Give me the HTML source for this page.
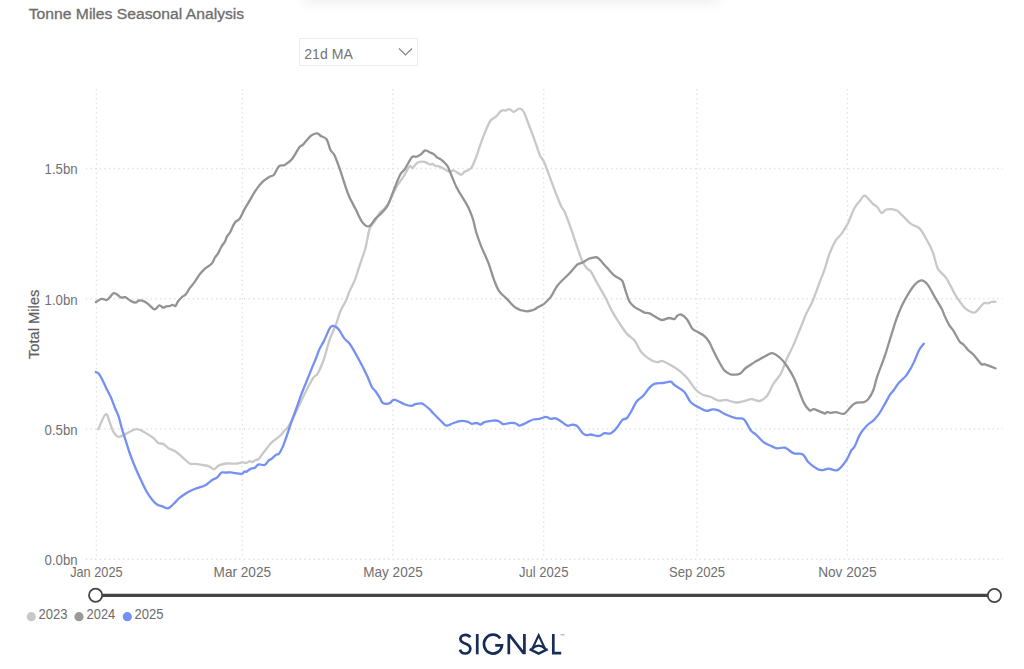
<!DOCTYPE html>
<html><head><meta charset="utf-8">
<style>
html,body{margin:0;padding:0;background:#fff;}
body{width:1024px;height:669px;overflow:hidden;position:relative;font-family:"Liberation Sans",sans-serif;}
.shadow{position:absolute;left:301px;top:-30px;width:420px;height:30px;background:#fff;box-shadow:0 2px 14px rgba(30,30,70,0.085);border-radius:0 0 10px 10px;}
.dd{position:absolute;left:299px;top:38px;width:117px;height:26px;border:1px solid #ebebeb;}
svg{position:absolute;left:0;top:0;}
</style></head><body>
<div class="shadow"></div>
<div class="dd"></div>
<svg width="1024" height="669" viewBox="0 0 1024 669" font-family="Liberation Sans">
<text x="28.7" y="19.2" font-size="15.5" fill="#6d6d6d" stroke="#6d6d6d" stroke-width="0.3" textLength="215.5" lengthAdjust="spacingAndGlyphs">Tonne Miles Seasonal Analysis</text>
<text x="304.3" y="58.7" font-size="15.2" fill="#747474" textLength="48.5" lengthAdjust="spacingAndGlyphs">21d MA</text>
<polyline points="399,48.5 405.5,55 412,48.5" fill="none" stroke="#808080" stroke-width="1.1"/>
<g stroke="#dedede" stroke-width="1.3" stroke-dasharray="1.3 3.35" fill="none">
<line x1="85.8" y1="168.5" x2="1002.5" y2="168.5"/>
<line x1="85.8" y1="298.75" x2="1002.5" y2="298.75"/>
<line x1="85.8" y1="429.0" x2="1002.5" y2="429.0"/>
<line x1="85.8" y1="559.25" x2="1002.5" y2="559.25"/>
<line x1="96.4" y1="89" x2="96.4" y2="558.25"/>
<line x1="242.3" y1="89" x2="242.3" y2="558.25"/>
<line x1="393.0" y1="89" x2="393.0" y2="558.25"/>
<line x1="543.7" y1="89" x2="543.7" y2="558.25"/>
<line x1="697.0" y1="89" x2="697.0" y2="558.25"/>
<line x1="847.4" y1="89" x2="847.4" y2="558.25"/>
</g>
<g font-family="Liberation Sans" font-size="13" fill="#707070">
<text x="77.6" y="174.3" text-anchor="end" font-size="15" textLength="33" lengthAdjust="spacingAndGlyphs">1.5bn</text>
<text x="77.6" y="304.6" text-anchor="end" font-size="15" textLength="33" lengthAdjust="spacingAndGlyphs">1.0bn</text>
<text x="77.6" y="434.8" text-anchor="end" font-size="15" textLength="33" lengthAdjust="spacingAndGlyphs">0.5bn</text>
<text x="77.6" y="565.0" text-anchor="end" font-size="15" textLength="33" lengthAdjust="spacingAndGlyphs">0.0bn</text>
<text x="96.4" y="576.6" text-anchor="middle" font-size="14.2" textLength="52.5" lengthAdjust="spacingAndGlyphs">Jan 2025</text>
<text x="242.3" y="576.6" text-anchor="middle" font-size="14.2" textLength="57.5" lengthAdjust="spacingAndGlyphs">Mar 2025</text>
<text x="393.0" y="576.6" text-anchor="middle" font-size="14.2" textLength="59.5" lengthAdjust="spacingAndGlyphs">May 2025</text>
<text x="543.7" y="576.6" text-anchor="middle" font-size="14.2" textLength="49.5" lengthAdjust="spacingAndGlyphs">Jul 2025</text>
<text x="697.0" y="576.6" text-anchor="middle" font-size="14.2" textLength="56" lengthAdjust="spacingAndGlyphs">Sep 2025</text>
<text x="847.4" y="576.6" text-anchor="middle" font-size="14.2" textLength="58.5" lengthAdjust="spacingAndGlyphs">Nov 2025</text>
</g>
<text transform="translate(39.2,324.3) rotate(-90)" text-anchor="middle" font-family="Liberation Sans" font-size="14.7" fill="#5e5e5e" stroke="#5e5e5e" stroke-width="0.2">Total Miles</text>
<g fill="none" stroke-width="2.3" stroke-linejoin="round" stroke-linecap="round">
<path d="M98.2,429.3 C99.5,426.8 103.7,415.3 105.7,414.3 C107.7,413.3 108.8,420.6 110.1,423.5 C111.4,426.4 112.0,429.5 113.3,431.7 C114.6,433.9 116.1,436.1 117.9,436.7 C119.7,437.2 121.9,435.8 123.9,435.0 C125.9,434.2 127.7,432.7 129.8,431.7 C131.9,430.7 134.4,429.3 136.6,429.2 C138.8,429.1 140.7,430.3 142.7,431.2 C144.7,432.2 146.8,433.7 148.6,434.8 C150.4,435.9 151.9,436.7 153.5,438.1 C155.1,439.5 156.8,442.0 158.4,443.0 C160.0,444.0 161.6,443.1 163.2,443.9 C164.8,444.7 166.0,446.5 168.1,447.9 C170.2,449.2 173.6,450.3 175.9,451.8 C178.2,453.3 179.5,454.7 181.8,456.6 C184.1,458.6 187.3,462.3 189.6,463.5 C191.9,464.7 193.4,463.6 195.5,463.9 C197.6,464.1 200.0,464.6 202.3,465.0 C204.6,465.4 207.2,465.7 209.1,466.4 C211.0,467.1 212.4,469.5 214.0,469.3 C215.6,469.1 216.8,466.4 218.9,465.4 C221.0,464.4 223.6,463.8 226.7,463.5 C229.8,463.2 234.6,463.8 237.2,463.6 C239.8,463.4 240.4,462.5 242.0,462.4 C243.6,462.3 245.4,463.1 246.7,462.9 C248.0,462.7 248.7,461.3 249.7,461.2 C250.7,461.1 251.8,462.2 252.7,462.0 C253.6,461.8 254.1,460.7 255.1,460.2 C256.1,459.7 257.6,459.9 258.7,459.0 C259.8,458.1 260.8,456.1 262.0,454.5 C263.2,452.9 264.2,451.5 265.9,449.5 C267.5,447.5 270.3,444.0 271.9,442.3 C273.5,440.6 274.1,440.4 275.5,439.3 C276.9,438.2 278.8,437.0 280.2,435.7 C281.6,434.4 282.4,433.1 283.8,431.5 C285.2,429.9 286.8,428.9 288.6,426.1 C290.4,423.3 291.8,420.4 294.6,414.8 C297.4,409.2 302.1,398.8 305.2,392.7 C308.3,386.6 310.9,381.4 313.0,378.1 C315.1,374.9 316.1,376.4 317.9,373.2 C319.7,370.0 321.9,364.7 323.9,359.0 C325.9,353.3 327.9,344.6 329.9,338.9 C331.9,333.2 334.1,329.3 335.9,324.7 C337.6,320.1 338.7,315.3 340.4,311.2 C342.1,307.1 344.9,303.1 346.3,300.0 C347.8,296.9 347.7,295.7 349.1,292.3 C350.6,288.9 353.5,283.2 355.0,279.6 C356.5,276.0 356.8,274.2 357.9,270.8 C359.0,267.4 360.5,263.0 361.8,259.1 C363.1,255.2 364.4,252.3 365.7,247.3 C367.0,242.3 368.0,233.6 369.6,229.0 C371.2,224.4 374.0,222.7 375.6,220.0 C377.2,217.3 377.6,215.5 379.5,213.0 C381.4,210.5 384.5,209.4 387.3,205.2 C390.1,201.0 393.3,192.6 396.1,187.7 C398.9,182.8 401.6,179.5 403.9,175.9 C406.2,172.3 408.3,167.5 409.8,166.2 C411.3,164.9 411.4,168.7 412.7,168.1 C413.9,167.5 415.3,163.8 417.3,162.7 C419.3,161.6 422.4,161.5 424.5,161.8 C426.6,162.1 428.6,164.2 429.9,164.5 C431.2,164.8 431.3,163.7 432.2,163.9 C433.1,164.1 433.9,165.2 435.2,165.7 C436.5,166.2 438.4,166.3 440.0,166.9 C441.6,167.5 443.2,168.5 444.8,169.3 C446.4,170.1 448.1,171.5 449.6,171.7 C451.1,171.9 451.9,170.0 453.8,170.5 C455.7,171.0 459.2,174.5 461.0,174.7 C462.8,174.9 462.8,172.8 464.5,171.7 C466.2,170.6 469.1,170.6 471.1,168.1 C473.1,165.6 474.9,160.2 476.3,156.7 C477.7,153.2 478.2,150.8 479.4,147.3 C480.6,143.8 482.1,139.6 483.6,135.8 C485.1,132.1 487.1,127.4 488.3,124.8 C489.5,122.2 489.6,121.5 490.9,120.1 C492.2,118.7 494.5,117.9 496.1,116.4 C497.8,114.9 499.6,112.2 500.8,111.2 C502.0,110.2 502.6,110.3 503.5,110.2 C504.4,110.1 505.2,110.7 506.1,110.5 C507.0,110.3 507.8,109.1 508.7,109.1 C509.6,109.0 510.4,109.7 511.3,110.2 C512.2,110.7 512.7,112.1 513.9,111.9 C515.1,111.7 517.5,109.3 518.7,108.8 C519.9,108.3 520.4,108.5 521.3,109.1 C522.2,109.7 523.0,110.7 523.9,112.3 C524.8,113.9 525.5,115.8 526.5,118.5 C527.5,121.2 529.0,125.3 530.2,128.5 C531.4,131.7 532.2,133.6 533.8,137.9 C535.4,142.2 538.2,151.1 539.6,154.6 C541.0,158.1 541.2,157.1 542.2,158.8 C543.2,160.5 543.2,159.6 545.3,165.0 C547.4,170.4 552.3,184.0 555.0,191.0 C557.7,198.0 559.9,203.6 561.5,207.0 C563.1,210.4 562.9,207.8 564.5,211.5 C566.1,215.2 569.2,223.6 571.3,229.5 C573.4,235.4 575.4,241.9 577.2,247.1 C579.0,252.3 580.5,257.2 582.1,260.8 C583.7,264.4 585.5,266.8 587.0,268.6 C588.5,270.4 589.3,269.2 590.9,271.5 C592.5,273.8 594.4,278.2 596.7,282.3 C599.0,286.4 601.9,291.0 604.5,295.9 C607.1,300.8 610.0,307.4 612.3,311.6 C614.6,315.8 616.2,318.2 618.2,321.3 C620.2,324.4 622.4,327.7 624.0,330.0 C625.6,332.3 626.2,333.1 628.0,334.9 C629.8,336.7 632.5,337.8 634.8,340.7 C637.1,343.6 638.8,349.2 641.6,352.5 C644.4,355.8 648.7,358.7 651.4,360.3 C654.1,361.9 656.1,362.0 657.8,362.1 C659.5,362.2 659.8,360.5 661.7,360.9 C663.7,361.3 666.6,362.8 669.5,364.4 C672.4,366.1 676.4,368.4 679.3,370.7 C682.2,373.0 684.3,374.9 687.1,378.1 C689.9,381.3 693.3,387.0 695.9,389.8 C698.5,392.6 700.3,393.6 702.7,394.7 C705.1,395.8 707.9,395.7 710.5,396.7 C713.1,397.7 715.8,400.1 718.4,400.6 C721.0,401.2 723.3,399.7 726.2,400.0 C729.1,400.3 733.0,402.3 735.9,402.5 C738.8,402.7 741.1,401.8 743.8,401.2 C746.4,400.6 749.0,399.2 751.6,399.2 C754.2,399.2 756.9,401.5 759.4,401.0 C761.9,400.5 764.6,398.9 766.9,396.1 C769.2,393.3 771.0,387.7 773.3,384.0 C775.6,380.3 778.4,378.0 780.6,374.0 C782.8,370.0 784.3,364.5 786.3,360.0 C788.3,355.5 790.2,352.2 792.6,346.9 C795.0,341.6 798.1,333.8 800.4,328.3 C802.7,322.8 804.2,318.2 806.2,313.7 C808.3,309.2 810.4,306.1 812.5,301.3 C814.6,296.5 816.7,290.2 818.8,284.6 C820.9,279.0 823.4,272.9 825.1,267.8 C826.9,262.8 827.5,258.8 829.3,254.3 C831.0,249.8 833.5,244.2 835.6,240.7 C837.7,237.2 839.7,236.3 841.8,233.3 C843.9,230.3 846.0,227.1 848.1,222.9 C850.2,218.7 852.3,212.0 854.4,208.2 C856.5,204.4 859.0,202.0 860.7,199.9 C862.4,197.8 862.7,195.0 864.8,195.7 C866.9,196.4 871.1,202.2 873.2,204.1 C875.3,206.0 876.0,205.7 877.4,207.2 C878.8,208.7 880.0,212.7 881.6,213.0 C883.2,213.3 884.4,209.8 886.8,209.3 C889.2,208.9 893.6,209.2 896.2,210.3 C898.8,211.4 900.0,213.3 902.5,215.6 C905.0,217.9 908.1,221.8 910.9,223.9 C913.7,226.0 916.8,225.8 919.2,228.1 C921.6,230.4 923.2,233.5 925.5,237.5 C927.8,241.5 930.7,247.0 932.8,252.2 C934.9,257.4 935.7,264.5 938.0,268.9 C940.3,273.2 943.6,274.1 946.4,278.3 C949.2,282.5 952.6,290.2 954.8,294.0 C957.0,297.8 957.8,298.8 959.6,301.2 C961.4,303.6 963.4,306.8 965.6,308.7 C967.9,310.6 971.1,312.4 973.1,312.7 C975.1,312.9 975.9,311.8 977.6,310.2 C979.4,308.6 981.9,304.5 983.6,303.4 C985.3,302.3 986.8,303.6 988.0,303.4 C989.2,303.2 989.8,302.3 991.0,302.0 C992.2,301.7 994.8,301.8 995.5,301.7" stroke="#c8c8c8"/>
<path d="M95.9,301.9 C96.9,301.4 99.9,299.2 101.7,298.9 C103.5,298.6 105.3,300.3 106.6,300.1 C107.9,299.9 108.4,298.7 109.5,297.6 C110.6,296.5 112.2,293.9 113.4,293.3 C114.6,292.7 115.1,293.4 116.4,294.1 C117.7,294.8 119.8,297.1 121.2,297.6 C122.7,298.1 123.6,296.6 125.2,297.2 C126.8,297.8 129.2,300.2 131.0,301.1 C132.8,302.0 134.6,302.6 135.9,302.5 C137.2,302.4 137.5,300.7 138.8,300.5 C140.1,300.3 142.1,300.5 143.7,301.1 C145.3,301.8 146.8,303.0 148.6,304.4 C150.4,305.8 152.7,309.1 154.5,309.3 C156.3,309.5 157.9,305.7 159.3,305.4 C160.8,305.1 162.0,307.5 163.2,307.7 C164.3,307.9 165.1,306.7 166.2,306.4 C167.3,306.1 169.0,306.3 170.0,306.0 C171.0,305.7 171.5,304.8 172.4,304.8 C173.3,304.8 174.5,306.5 175.4,306.0 C176.3,305.5 176.7,303.3 177.8,301.8 C178.9,300.3 180.7,298.2 182.0,297.0 C183.3,295.8 184.2,296.2 185.6,294.6 C187.0,293.0 188.7,289.6 190.3,287.4 C191.9,285.2 193.6,283.5 195.1,281.4 C196.6,279.3 197.7,277.0 199.3,274.9 C200.9,272.8 202.6,270.8 204.7,268.9 C206.8,267.0 210.2,265.4 211.9,263.5 C213.6,261.6 213.9,259.1 214.9,257.5 C215.9,255.9 216.7,255.7 217.8,253.9 C218.9,252.1 220.2,248.8 221.4,246.7 C222.6,244.6 224.1,243.2 225.0,241.4 C225.9,239.7 226.2,237.8 227.1,236.2 C228.0,234.6 229.1,234.1 230.4,231.8 C231.7,229.5 233.3,224.7 234.9,222.5 C236.5,220.3 238.2,220.9 239.8,218.6 C241.4,216.3 242.9,212.2 244.7,208.9 C246.5,205.7 248.6,202.4 250.5,199.1 C252.4,195.8 254.4,192.1 256.4,189.3 C258.4,186.5 260.2,184.2 262.3,182.1 C264.4,180.0 267.2,178.2 269.1,177.0 C271.1,175.8 272.4,176.5 274.0,174.7 C275.6,172.9 277.1,167.9 278.9,166.3 C280.7,164.7 282.6,166.0 284.7,164.9 C286.8,163.8 289.2,162.5 291.6,159.6 C294.1,156.7 297.4,149.8 299.4,147.3 C301.3,144.8 301.4,146.4 303.3,144.4 C305.2,142.4 308.8,137.4 311.1,135.6 C313.4,133.8 315.6,133.2 317.2,133.3 C318.8,133.4 319.3,135.0 320.9,136.0 C322.5,137.0 325.1,137.1 326.7,139.5 C328.3,141.9 329.3,147.7 330.6,150.3 C331.9,152.9 332.9,151.8 334.5,155.2 C336.1,158.6 338.1,164.3 340.4,170.8 C342.7,177.3 345.6,187.7 348.2,194.2 C350.8,200.7 353.7,205.2 356.0,209.8 C358.3,214.4 359.8,218.8 361.9,221.6 C364.0,224.4 366.4,226.9 368.7,226.4 C371.0,225.9 373.7,220.5 375.5,218.6 C377.3,216.7 377.5,217.1 379.5,215.0 C381.5,212.9 385.0,210.1 387.3,206.2 C389.6,202.3 391.1,196.8 393.2,191.6 C395.3,186.4 398.1,178.8 400.0,175.0 C401.9,171.2 402.9,172.0 404.9,169.1 C406.9,166.2 409.8,159.5 411.8,157.4 C413.8,155.3 415.2,157.2 416.7,156.7 C418.2,156.2 419.5,155.4 420.9,154.4 C422.3,153.4 423.5,150.8 425.1,150.5 C426.7,150.2 429.0,151.9 430.5,152.6 C432.0,153.2 432.9,153.6 434.0,154.4 C435.1,155.2 435.8,156.4 437.0,157.3 C438.2,158.2 439.5,158.3 441.2,159.7 C442.9,161.1 445.7,163.6 447.2,165.7 C448.7,167.8 448.6,168.6 450.2,172.3 C451.8,176.0 454.5,183.2 456.8,187.8 C459.1,192.4 462.0,196.4 464.0,199.8 C466.0,203.2 467.2,205.0 468.7,208.2 C470.2,211.4 471.7,215.1 472.9,219.0 C474.1,222.9 474.6,226.8 476.0,231.5 C477.4,236.2 479.4,241.9 481.5,247.1 C483.6,252.3 486.2,257.2 488.3,262.7 C490.4,268.2 492.4,275.6 494.2,280.3 C496.0,285.0 497.0,288.0 499.1,291.1 C501.2,294.2 504.1,296.1 506.9,298.9 C509.7,301.7 512.6,305.6 515.7,307.7 C518.8,309.8 522.5,310.8 525.4,311.2 C528.3,311.6 531.2,310.6 533.2,310.0 C535.2,309.4 535.3,308.7 537.1,307.7 C538.9,306.7 541.7,305.6 544.0,303.8 C546.3,301.9 548.5,300.0 550.8,296.9 C553.1,293.8 554.6,289.1 557.7,285.2 C560.8,281.3 566.1,276.9 569.4,273.5 C572.6,270.1 575.1,266.5 577.2,264.7 C579.3,262.9 580.2,263.7 582.1,262.7 C584.0,261.7 586.8,259.7 588.9,258.8 C591.0,257.9 593.2,257.4 594.8,257.3 C596.4,257.2 596.7,256.9 598.3,258.2 C599.9,259.5 602.8,263.1 604.4,264.9 C606.0,266.7 606.3,267.0 608.0,268.8 C609.7,270.6 612.3,273.8 614.5,275.6 C616.7,277.4 619.8,278.5 621.2,279.7 C622.7,280.9 622.4,281.0 623.2,283.0 C624.0,285.0 624.9,288.8 625.9,291.8 C626.9,294.8 627.9,298.7 629.3,301.2 C630.6,303.7 632.4,305.2 634.0,306.6 C635.6,308.0 637.2,308.5 639.0,309.5 C640.8,310.5 643.0,312.0 644.7,312.6 C646.4,313.2 647.8,312.7 649.4,313.3 C651.0,313.9 652.1,314.9 654.1,316.0 C656.1,317.1 659.1,319.7 661.6,320.0 C664.1,320.3 666.9,318.1 669.0,318.0 C671.1,317.9 673.1,319.4 674.4,319.1 C675.7,318.8 675.9,316.8 677.0,316.0 C678.1,315.2 679.6,314.0 681.2,314.6 C682.9,315.2 685.3,317.2 687.1,319.5 C688.9,321.8 690.4,326.3 692.0,328.3 C693.6,330.3 694.9,330.4 696.9,331.6 C698.9,332.8 701.8,333.9 703.7,335.5 C705.7,337.1 707.1,338.8 708.6,341.0 C710.1,343.2 710.9,345.6 712.5,348.8 C714.1,352.1 716.4,356.9 718.4,360.5 C720.4,364.1 722.2,368.0 724.2,370.3 C726.2,372.6 728.5,373.5 730.1,374.2 C731.7,374.9 732.4,374.7 734.0,374.6 C735.6,374.5 737.8,374.9 739.8,373.8 C741.8,372.7 743.4,369.8 745.7,368.0 C748.0,366.2 751.5,364.2 753.5,362.9 C755.5,361.6 756.0,361.4 757.9,360.3 C759.8,359.2 762.3,357.7 764.7,356.5 C767.1,355.3 769.7,352.9 772.3,353.1 C774.9,353.4 777.8,355.9 780.2,358.0 C782.6,360.1 784.2,362.1 786.5,365.5 C788.8,368.9 791.4,372.5 794.2,378.6 C797.0,384.7 801.0,396.8 803.5,402.1 C806.0,407.4 807.8,409.0 809.5,410.2 C811.2,411.4 812.1,409.1 813.6,409.2 C815.1,409.3 816.4,410.1 818.3,410.8 C820.2,411.5 823.5,413.3 825.0,413.5 C826.5,413.7 826.1,412.0 827.0,411.9 C827.9,411.8 828.9,412.8 830.4,412.9 C831.9,412.9 833.6,412.0 835.8,412.2 C838.0,412.4 841.8,414.3 843.8,413.9 C845.8,413.6 846.1,412.0 847.9,410.2 C849.7,408.4 851.9,404.8 854.6,403.4 C857.3,402.0 861.8,402.8 864.0,402.1 C866.2,401.4 866.5,401.4 868.1,399.4 C869.7,397.4 871.9,393.8 873.4,390.0 C874.9,386.2 875.2,382.6 877.1,376.9 C879.0,371.2 882.6,362.5 884.9,355.7 C887.2,348.9 889.0,342.3 890.9,336.3 C892.8,330.3 894.6,324.2 896.1,319.9 C897.6,315.5 898.5,313.5 899.9,310.2 C901.3,306.9 902.2,304.4 904.6,300.3 C907.0,296.2 911.2,288.9 914.0,285.6 C916.8,282.3 919.0,280.6 921.3,280.4 C923.6,280.2 925.1,281.5 927.6,284.6 C930.1,287.7 933.6,295.2 936.0,299.2 C938.4,303.2 940.2,305.9 941.7,308.7 C943.2,311.5 943.5,313.4 944.7,316.1 C946.0,318.8 947.7,322.6 949.2,325.1 C950.7,327.6 952.0,328.4 953.7,331.1 C955.4,333.8 958.0,339.3 959.6,341.5 C961.2,343.7 961.9,343.0 963.4,344.5 C964.9,346.0 967.0,348.9 968.6,350.5 C970.2,352.1 971.0,351.9 973.1,354.2 C975.2,356.4 979.3,362.3 981.3,364.0 C983.3,365.7 982.6,363.6 985.0,364.3 C987.4,365.0 993.8,367.7 995.5,368.4" stroke="#939393"/>
<path d="M95.8,372.0 C96.3,372.3 97.7,372.4 98.8,373.7 C99.9,375.0 101.0,377.2 102.3,379.7 C103.6,382.2 105.0,385.6 106.5,388.7 C108.0,391.8 109.9,395.0 111.3,398.2 C112.7,401.4 113.7,404.8 114.9,407.8 C116.1,410.8 117.3,412.6 118.5,416.2 C119.7,419.8 121.0,425.5 122.1,429.3 C123.2,433.1 123.9,434.9 125.2,439.0 C126.5,443.1 128.3,449.2 130.0,454.0 C131.7,458.8 133.6,463.5 135.4,467.8 C137.2,472.1 138.9,475.8 140.8,479.8 C142.7,483.8 144.8,488.5 146.7,491.8 C148.6,495.1 150.3,497.4 152.0,499.5 C153.7,501.6 155.3,503.4 157.0,504.5 C158.7,505.6 160.5,505.8 162.3,506.4 C164.2,507.0 166.2,508.9 168.1,508.4 C170.0,507.9 172.4,505.0 174.0,503.5 C175.6,502.0 176.5,500.8 177.8,499.5 C179.1,498.2 180.4,497.2 182.0,496.0 C183.6,494.8 185.7,493.4 187.4,492.4 C189.1,491.4 190.6,490.7 192.2,490.0 C193.8,489.3 194.8,489.0 197.0,488.2 C199.2,487.4 202.8,486.6 205.4,485.2 C208.0,483.8 210.5,481.1 212.5,479.8 C214.5,478.5 215.8,478.6 217.3,477.4 C218.8,476.2 220.1,473.4 221.5,472.6 C222.9,471.8 224.2,472.6 225.7,472.6 C227.2,472.6 228.0,472.2 230.6,472.4 C233.2,472.6 239.1,473.9 241.4,473.8 C243.7,473.7 243.5,472.0 244.4,471.6 C245.3,471.2 245.6,472.1 246.7,471.6 C247.8,471.1 249.6,469.2 250.9,468.6 C252.2,468.0 253.2,468.7 254.5,468.0 C255.8,467.3 257.0,464.9 258.7,464.4 C260.4,463.9 263.0,465.7 264.7,465.0 C266.4,464.3 267.8,461.2 268.9,460.2 C270.0,459.2 270.1,459.9 271.3,459.0 C272.5,458.1 274.8,455.7 276.1,454.8 C277.4,453.9 277.9,455.0 279.0,453.7 C280.1,452.4 281.4,449.8 282.6,447.1 C283.8,444.4 284.8,441.5 286.2,437.5 C287.6,433.5 289.4,427.8 291.0,423.2 C292.6,418.6 294.1,414.8 295.8,410.0 C297.5,405.2 299.4,399.7 301.2,394.7 C303.1,389.7 305.1,384.9 307.1,380.0 C309.1,375.1 311.4,369.2 313.0,365.4 C314.6,361.6 315.3,359.9 316.4,357.2 C317.5,354.5 318.1,352.0 319.4,349.3 C320.6,346.6 322.0,344.8 323.9,341.1 C325.8,337.4 328.6,329.3 330.6,326.9 C332.6,324.5 334.4,326.3 335.9,326.9 C337.4,327.5 338.2,328.7 339.6,330.6 C341.0,332.5 342.6,336.1 344.1,338.1 C345.6,340.1 347.2,341.0 348.6,342.6 C350.0,344.2 350.4,344.7 352.3,347.8 C354.2,350.9 357.3,356.6 359.8,361.3 C362.3,366.0 365.3,372.0 367.3,376.2 C369.3,380.4 370.3,384.2 371.7,386.7 C373.1,389.2 374.1,389.3 375.5,391.2 C376.9,393.1 378.8,396.1 380.0,398.1 C381.2,400.1 381.3,402.1 382.9,403.0 C384.5,403.9 388.2,403.7 389.8,403.2 C391.4,402.8 391.7,400.8 392.7,400.3 C393.7,399.8 393.7,399.4 395.6,400.0 C397.6,400.6 401.8,403.2 404.4,404.2 C407.0,405.2 409.4,405.9 411.2,405.9 C413.1,405.9 413.6,404.6 415.2,404.2 C416.8,403.8 419.6,403.3 421.0,403.4 C422.4,403.5 422.4,403.6 423.9,404.6 C425.4,405.6 428.3,408.0 429.8,409.3 C431.3,410.6 431.4,411.3 432.7,412.7 C434.0,414.1 436.1,416.1 437.6,417.6 C439.1,419.1 440.0,420.1 441.5,421.5 C443.0,422.9 444.6,425.4 446.4,425.7 C448.2,426.0 450.5,424.1 452.3,423.5 C454.1,422.9 455.5,422.2 457.1,421.8 C458.7,421.4 460.2,420.8 462.0,420.8 C463.8,420.8 466.3,421.3 467.9,421.8 C469.5,422.3 470.3,423.6 471.8,423.8 C473.3,423.9 475.2,422.9 476.7,423.0 C478.1,423.1 479.2,424.6 480.5,424.5 C481.8,424.4 482.6,422.8 484.4,422.2 C486.2,421.6 489.0,421.0 491.2,420.8 C493.5,420.6 496.1,420.2 498.1,420.8 C500.1,421.4 501.4,423.7 503.0,424.1 C504.6,424.5 506.4,423.6 507.9,423.4 C509.3,423.2 510.3,422.7 511.8,422.8 C513.2,422.9 515.3,423.3 516.6,423.8 C517.9,424.2 518.0,425.9 519.6,425.7 C521.2,425.5 524.1,423.8 526.4,422.8 C528.7,421.8 531.1,420.1 533.2,419.5 C535.3,418.9 537.0,419.3 539.1,418.9 C541.2,418.5 544.0,416.9 545.9,416.9 C547.8,416.9 549.2,418.7 550.8,418.9 C552.4,419.1 553.9,417.8 555.7,418.3 C557.5,418.8 559.7,420.6 561.6,421.8 C563.5,423.0 565.6,425.2 567.4,425.7 C569.2,426.2 570.7,424.6 572.3,424.7 C573.9,424.8 575.4,424.6 577.2,426.1 C579.0,427.6 581.4,432.0 583.0,433.5 C584.6,435.0 585.7,434.9 587.0,435.1 C588.3,435.3 589.3,434.4 590.9,434.5 C592.5,434.6 595.1,435.7 596.7,435.9 C598.3,436.1 599.3,436.0 600.6,435.5 C601.9,435.0 602.9,433.4 604.5,433.1 C606.1,432.8 608.4,434.2 610.4,433.5 C612.4,432.8 614.3,430.8 616.2,428.6 C618.2,426.4 620.3,422.0 622.1,420.2 C623.9,418.4 625.4,419.6 627.0,417.9 C628.6,416.2 630.3,412.9 631.9,410.1 C633.5,407.3 634.8,403.8 636.8,401.3 C638.7,398.9 641.5,397.7 643.6,395.4 C645.7,393.1 647.6,389.6 649.5,387.6 C651.4,385.6 652.7,384.4 654.9,383.6 C657.1,382.8 660.1,383.3 662.7,383.0 C665.3,382.7 668.5,381.3 670.5,381.6 C672.5,381.9 672.1,383.3 674.4,385.0 C676.7,386.7 681.4,388.9 684.2,391.8 C687.0,394.7 688.2,399.7 691.0,402.5 C693.8,405.3 698.2,407.0 700.8,408.4 C703.4,409.8 704.6,410.7 706.6,410.9 C708.6,411.1 710.5,409.5 712.5,409.4 C714.5,409.3 716.3,409.6 718.4,410.4 C720.5,411.2 722.3,413.0 725.2,414.3 C728.1,415.6 733.1,417.5 735.9,418.2 C738.7,418.9 740.3,418.0 741.8,418.4 C743.3,418.8 743.4,418.4 745.0,420.5 C746.6,422.6 749.4,428.6 751.2,430.9 C753.0,433.2 753.7,432.4 755.7,434.3 C757.8,436.2 760.9,440.1 763.5,442.1 C766.1,444.1 769.1,445.1 771.4,446.1 C773.6,447.2 774.8,448.1 777.0,448.4 C779.2,448.7 782.0,446.9 784.8,447.7 C787.6,448.5 790.8,452.2 793.8,453.3 C796.8,454.4 800.4,452.9 802.8,454.4 C805.2,455.9 806.0,459.9 808.4,462.3 C810.8,464.7 815.0,467.7 817.4,469.0 C819.8,470.3 821.1,470.2 823.0,470.1 C824.9,470.0 826.2,468.6 828.6,468.6 C831.0,468.6 834.5,471.5 837.5,470.1 C840.5,468.7 844.2,463.3 846.5,460.0 C848.8,456.7 849.9,452.8 851.2,450.5 C852.6,448.2 853.1,449.2 854.6,446.5 C856.1,443.8 858.0,437.9 860.0,434.4 C862.0,430.9 864.5,428.0 866.7,425.7 C869.0,423.4 871.5,422.2 873.5,420.3 C875.5,418.4 877.0,416.7 878.8,414.2 C880.5,411.7 882.1,408.8 884.0,405.5 C885.9,402.2 888.4,397.3 890.0,394.7 C891.6,392.1 892.4,392.0 893.9,390.0 C895.4,388.0 897.1,385.0 899.1,382.6 C901.1,380.2 903.9,378.4 905.9,375.9 C907.9,373.4 909.6,370.3 911.1,367.7 C912.6,365.1 913.4,363.2 914.8,360.2 C916.2,357.2 917.8,352.5 919.3,349.8 C920.8,347.1 923.0,344.8 923.8,343.8" stroke="#7490f3"/>
</g>
<line x1="96" y1="595.3" x2="994.5" y2="595.4" stroke="#454545" stroke-width="3.2"/>
<circle cx="95.6" cy="595.3" r="6.6" fill="#fff" stroke="#454545" stroke-width="1.8"/>
<circle cx="994.4" cy="595.5" r="6.6" fill="#fff" stroke="#454545" stroke-width="1.8"/>
<circle cx="31.3" cy="616.7" r="4.6" fill="#c8c8c8"/>
<circle cx="79" cy="616.7" r="4.6" fill="#999"/>
<circle cx="127.3" cy="616.7" r="4.6" fill="#7490f3"/>
<g font-family="Liberation Sans" font-size="13.8" fill="#6b6b6b">
<text x="38.4" y="619.4" textLength="29" lengthAdjust="spacingAndGlyphs">2023</text>
<text x="86.6" y="619.4" textLength="28.6" lengthAdjust="spacingAndGlyphs">2024</text>
<text x="134.6" y="619.4" textLength="29" lengthAdjust="spacingAndGlyphs">2025</text>
</g>
<g fill="none" stroke="#172c56" stroke-width="2.7" stroke-linecap="butt">
<path d="M470.2,637.3 C469.2,635.6 467.6,634.8 465.5,634.8 C462.5,634.8 460.4,636.6 460.4,639 C460.4,641.6 462.6,642.7 465.6,643.7 C468.8,644.7 470.3,646.3 470.3,648.7 C470.3,651.6 468.1,653.5 465.2,653.5 C462.6,653.5 460.7,652 460,649.6"/>
<path d="M477.25,634 V654.3"/>
<path d="M500.2,638.4 A9.05,9.4 0 1 0 502,645.3 H495.2"/>
<path d="M507.45,654.3 V634 H510.5 L523.05,650.3 V634 H525.75 V654.3 H522.7 L510.15,637.97 V654.3 Z" fill="#172c56" stroke="none"/>
<path d="M531.9,649.6 L538.65,635.4 L545.4,649.6" stroke-linejoin="miter" stroke-width="2.2"/>
<path d="M532.2,648.6 Q538.65,642.6 545.1,648.6" stroke-width="2.3"/>
<path d="M529.6,649.1 L538.65,653.7 L547.7,649.1" stroke-linejoin="miter" stroke-width="2.5"/>
<path d="M553.3,634 V653.2 H561.2"/>
<path d="M560.6,634.8 H564.6" stroke-width="1" stroke="#9aa3b5"/>
</g>
</svg>
</body></html>
